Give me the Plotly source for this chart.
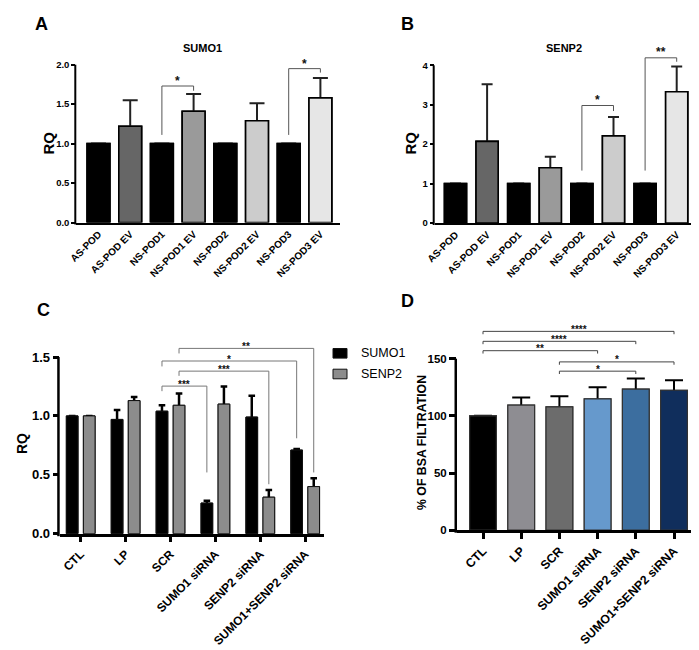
import plotly.graph_objects as go

W, H = 699, 650
FONT = "Liberation Sans, Arial, Helvetica, sans-serif"

# ---------------- data ----------------
a_cats = ["AS-POD", "AS-POD EV", "NS-POD1", "NS-POD1 EV", "NS-POD2", "NS-POD2 EV", "NS-POD3", "NS-POD3 EV"]
a_vals = [1.0, 1.22, 1.0, 1.41, 1.0, 1.29, 1.0, 1.58]
a_err = [0, 0.33, 0, 0.22, 0, 0.22, 0, 0.25]

b_cats = ["AS-POD", "AS-POD EV", "NS-POD1", "NS-POD1 EV", "NS-POD2", "NS-POD2 EV", "NS-POD3", "NS-POD3 EV"]
b_vals = [1.0, 2.07, 1.0, 1.40, 1.0, 2.21, 1.0, 3.33]
b_err = [0, 1.45, 0, 0.28, 0, 0.48, 0, 0.64]

ab_colors = ["#000000", "#666666", "#000000", "#9a9a9a", "#000000", "#cccccc", "#000000", "#e6e6e6"]

c_cats = ["CTL", "LP", "SCR", "SUMO1 siRNA", "SENP2 siRNA", "SUMO1+SENP2 siRNA"]
c_sumo1 = [1.00, 0.97, 1.04, 0.26, 0.99, 0.71]
c_sumo1_err = [0, 0.08, 0.05, 0.02, 0.18, 0.01]
c_senp2 = [1.00, 1.13, 1.09, 1.10, 0.31, 0.40]
c_senp2_err = [0, 0.03, 0.10, 0.15, 0.06, 0.07]
c_series = ["SUMO1", "SENP2"]
c_colors = ["#000000", "#8c8c8c"]

d_cats = ["CTL", "LP", "SCR", "SUMO1 siRNA", "SENP2 siRNA", "SUMO1+SENP2 siRNA"]
d_vals = [100, 109.4, 107.9, 114.9, 123.3, 122.4]
d_err = [0, 6.6, 9.3, 10.1, 9.3, 8.8]
d_colors = ["#000000", "#8e8d92", "#6c6c6c", "#6699cc", "#3c6e9f", "#102e5c"]

# significance brackets: (from, to, bracket level, left leg end, right leg end, label)
a_sig = [(2, 3, 1.73, 1.11, 1.67, "*"), (6, 7, 1.95, 1.11, 1.90, "*")]
b_sig = [(4, 5, 2.98, 1.33, 2.84, "*"), (6, 7, 4.19, 1.33, 4.09, "**")]
# (from cat, from series, to cat, to series, level, left leg end, right leg end, label)
c_sig = [(2, 0, 3, 0, 1.253, 1.21, 0.52, "***"),
         (2, 1, 4, 1, 1.38, 1.34, 0.42, "***"),
         (2, 0, 5, 0, 1.466, 1.42, 0.81, "*"),
         (2, 1, 5, 1, 1.573, 1.53, 0.52, "**")]
d_sig = [(0, 5, 173.9, "****"), (0, 4, 165.2, "****"), (0, 3, 157.0, "**"),
         (2, 5, 147.2, "*"), (2, 4, 139.1, "*")]

# ---------------- layout geometry (pixels) ----------------
panels = {
    "A": dict(left=68.3, right=332, y0=214.5, ytop=56.7, tmax=2.0, rtop=2.0, c0=90.5, step=31.7, dtick=0.5, fmt=".1f"),
    "B": dict(left=426.7, right=689, y0=215, ytop=57.3, tmax=4, rtop=4.25, c0=447.5, step=31.6, dtick=1, fmt="d"),
    "C": dict(left=51.7, right=316, y0=525.7, ytop=349, tmax=1.5, rtop=1.62, c0=72.7, step=44.9, dtick=0.5, fmt=".1f"),
    "D": dict(left=449, right=690, y0=522.2, ytop=350.7, tmax=150, rtop=176, c0=475, step=38.2, dtick=50, fmt="d"),
}
axes_ids = {"A": ("x", "y"), "B": ("x2", "y2"), "C": ("x3", "y3"), "D": ("x4", "y4")}
style = {
    "A": dict(tick=9.5, xtick=10, ticklen=4, xticks="", lw=2),
    "B": dict(tick=9.5, xtick=10, ticklen=4, xticks="", lw=2),
    "C": dict(tick=13, xtick=12, ticklen=6, xticks="outside", lw=2.5),
    "D": dict(tick=11.5, xtick=12.3, ticklen=7, xticks="outside", lw=2.5),
}
cats_of = {"A": a_cats, "B": b_cats, "C": c_cats, "D": d_cats}

fig = go.Figure()


def add_bars(cats, vals, err, colors, xa, ya, width, offset, lcol, lw, ecol, eth, ew):
    common = dict(x=cats, y=vals, width=width, xaxis=xa, yaxis=ya, showlegend=False,
                  hoverinfo="skip", marker=dict(color=colors, line=dict(color=lcol, width=lw)))
    if offset is not None:
        common["offset"] = offset
    fig.add_trace(go.Bar(**common, error_y=dict(type="data", array=err, symmetric=True,
                                                color=ecol, thickness=eth, width=ew)))
    fig.add_trace(go.Bar(**common))


add_bars(a_cats, a_vals, a_err, ab_colors, "x", "y", 0.72, None, "#000000", 1.6, "#222222", 2, 7.5)
add_bars(b_cats, b_vals, b_err, ab_colors, "x2", "y2", 0.70, None, "#000000", 1.6, "#222222", 2, 5.5)
C_W = 0.26
C_OFF = [-0.32, 0.06]
add_bars(c_cats, c_sumo1, c_sumo1_err, c_colors[0], "x3", "y3", C_W, C_OFF[0], "#111111", 1, "#000000", 2.5, 3.3)
add_bars(c_cats, c_senp2, c_senp2_err, c_colors[1], "x3", "y3", C_W, C_OFF[1], "#111111", 1, "#000000", 2.5, 3.3)
add_bars(d_cats, d_vals, d_err, d_colors, "x4", "y4", 0.70, None, "#333333", 1.2, "#000000", 2, 9)

layout = dict(width=W, height=H, margin=dict(l=0, r=0, t=0, b=0),
              plot_bgcolor="white", paper_bgcolor="white", barmode="overlay",
              font=dict(family=FONT, color="black"), showlegend=False)
shapes = []
annotations = []

for key, p in panels.items():
    xa, ya = axes_ids[key]
    st = style[key]
    ppu = (p["y0"] - p["ytop"]) / p["tmax"]
    top_px = p["y0"] - p["rtop"] * ppu
    xr = [(p["left"] - p["c0"]) / p["step"], (p["right"] - p["c0"]) / p["step"]]
    xname = "xaxis" + xa[1:]
    yname = "yaxis" + ya[1:]
    layout[xname] = dict(domain=[p["left"] / W, p["right"] / W], range=xr, type="category",
                         categoryorder="array", categoryarray=cats_of[key], anchor=ya,
                         showline=True, linecolor="black", linewidth=st["lw"],
                         ticks=st["xticks"], ticklen=6, tickwidth=st["lw"], tickcolor="black",
                         tickangle=-45, showgrid=False, zeroline=False, automargin=False,
                         fixedrange=True,
                         tickfont=dict(family=FONT, size=st["xtick"], color="black", weight="bold"))
    layout[yname] = dict(domain=[1 - p["y0"] / H, 1 - top_px / H], range=[0, p["rtop"]], anchor=xa,
                         showline=False, ticks="outside", ticklen=st["ticklen"], tickwidth=st["lw"],
                         tickcolor="black", tickmode="linear", tick0=0, dtick=p["dtick"],
                         tickformat=p["fmt"], showgrid=False, zeroline=False, automargin=False,
                         fixedrange=True,
                         tickfont=dict(family=FONT, size=st["tick"], color="black", weight="bold"))
    # y axis line up to the last tick
    lx = (p["left"] - st["lw"] / 2) / W
    shapes.append(dict(type="line", xref="paper", yref="paper", x0=lx, x1=lx,
                       y0=1 - (p["y0"] + st["lw"]) / H, y1=1 - p["ytop"] / H,
                       line=dict(color="black", width=st["lw"])))


def bracket(xa, ya, x0, x1, y, yl, yr, label, color, lw, fsize, shift):
    shapes.append(dict(type="line", xref=xa, yref=ya, x0=x0, x1=x0, y0=yl, y1=y, line=dict(color=color, width=lw)))
    shapes.append(dict(type="line", xref=xa, yref=ya, x0=x0, x1=x1, y0=y, y1=y, line=dict(color=color, width=lw)))
    shapes.append(dict(type="line", xref=xa, yref=ya, x0=x1, x1=x1, y0=y, y1=yr, line=dict(color=color, width=lw)))
    annotations.append(dict(xref=xa, yref=ya, x=(x0 + x1) / 2, y=y, text=label, showarrow=False,
                            yanchor="middle", yshift=shift,
                            font=dict(family=FONT, size=fsize, color="#111111", weight="bold")))


for i, j, y, yl, yr, lab in a_sig:
    bracket("x", "y", i, j, y, yl, yr, lab, "#555555", 1, 12, 5)
for i, j, y, yl, yr, lab in b_sig:
    bracket("x2", "y2", i, j, y, yl, yr, lab, "#555555", 1, 12, 6)
c_centers = [C_OFF[0] + C_W / 2, C_OFF[1] + C_W / 2]
for i, si, j, sj, y, yl, yr, lab in c_sig:
    bracket("x3", "y3", i + c_centers[si], j + c_centers[sj], y, yl, yr, lab, "#777777", 1, 10, 2)
for i, j, y, lab in d_sig:
    bracket("x4", "y4", i, j, y, y - 2.5, y - 2.5, lab, "#444444", 1, 10, 2)

# titles, axis titles, panel letters


def pann(text, x, y, size, bold=True, angle=0, xanchor="center"):
    annotations.append(dict(xref="paper", yref="paper", x=x / W, y=1 - y / H, text=text, showarrow=False,
                            xanchor=xanchor, yanchor="middle", textangle=angle,
                            font=dict(family=FONT, size=size, color="black", weight="bold" if bold else "normal")))


pann("A", 33, 15.5, 18)
pann("B", 399, 15.5, 18)
pann("C", 35, 301.7, 18)
pann("D", 399, 293, 18)
pann("SUMO1", 194, 39.5, 11)
pann("SENP2", 556, 39.5, 11)
pann("RQ", 40, 135.5, 15, angle=-90)
pann("RQ", 402, 135.5, 15, angle=-90)
pann("RQ", 14, 436, 14, angle=-90)
pann("% OF BSA FILTRATION", 414, 435, 12.3, angle=-90)

# legend for panel C
for k, (name, col) in enumerate(zip(c_series, c_colors)):
    yc = 345.3 + k * 20.7
    shapes.append(dict(type="rect", xref="paper", yref="paper", x0=325 / W, x1=339 / W,
                       y0=1 - (yc + 4.8) / H, y1=1 - (yc - 4.8) / H,
                       fillcolor=col, line=dict(color="#111111", width=1)))
    pann(name, 351, yc, 12.5, bold=False, xanchor="left")

layout["shapes"] = shapes
layout["annotations"] = annotations
fig.update_layout(**layout)
fig.write_html("out.html")
